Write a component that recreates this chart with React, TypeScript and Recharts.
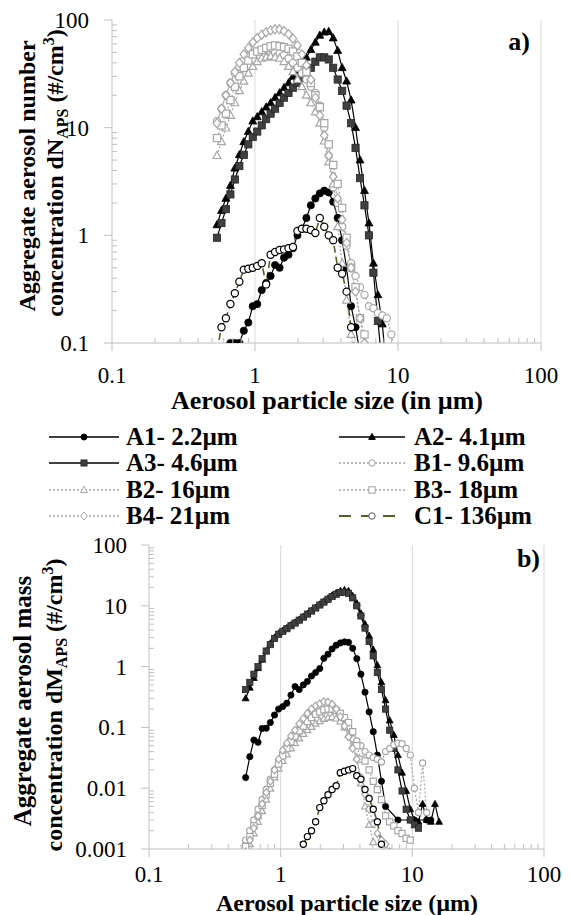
import React from 'react';
import { LineChart, Line, XAxis, YAxis, ReferenceLine } from 'recharts';

// APS channel midpoints (µm)
const SIZES = [
  0.542, 0.583, 0.626, 0.673, 0.723, 0.777, 0.835, 0.898, 0.965, 1.037,
  1.114, 1.197, 1.286, 1.382, 1.486, 1.596, 1.715, 1.843, 1.981, 2.129,
  2.288, 2.458, 2.642, 2.839, 3.051, 3.278, 3.523, 3.786, 4.068, 4.371,
  4.698, 5.048, 5.425, 5.829, 6.264, 6.732, 7.234, 7.774, 8.354, 8.977,
  9.647, 10.37, 11.14, 11.97, 12.86, 13.82, 14.86, 15.96,
];

const _ = null;

// a) number concentration dN_APS
const A1_N = [_, _, _, 0.1, 0.1, 0.1, 0.13, 0.155, 0.22, 0.23, 0.31, 0.36, 0.42, 0.53, 0.5, 0.62, 0.66, 0.76, 1.0, 1.15, 1.45, 1.9, 2.2, 2.45, 2.6, 2.5, 2.05, 1.45, 0.9, 0.5, 0.22, 0.14, 0.08];
const A2_N = [1.25, 1.7, 2.2, 2.9, 4.2, 5.6, 7.4, 9.2, 11.5, 12.6, 14, 15.5, 17, 19, 21, 23.5, 26, 30, 34, 39, 45, 53, 62, 72, 77, 78, 68, 52, 36, 27, 18, 10, 5.0, 2.6, 1.3, 0.55, 0.28, 0.15, 0.05];
const A3_N = [0.95, 1.3, 1.75, 2.4, 3.3, 4.4, 5.6, 7.0, 8.2, 9.2, 10.5, 12, 13.5, 15, 17, 19, 21, 23.5, 26, 29, 32, 36, 41, 45, 45, 43, 36, 28, 22, 16, 11, 6.5, 3.4, 1.9, 1.0, 0.45, 0.16, 0.06];
const B1_N = [11.5, 15, 20, 26, 32, 37, 42, 46, 49, 51, 52, 52, 51, 50, 49, 47, 44, 40, 36, 32, 28, 24, 21, 16, 10, 5.5, 2.8, 2.0, 1.2, 0.8, 0.55, 0.42, 0.33, 0.28, 0.22, 0.21, 0.19, 0.18, 0.17, 0.12, 0.07];
const B2_N = [5.5, 7.4, 9.9, 13, 17, 22, 27, 32, 37, 41, 44, 45, 46, 45, 44, 41, 37, 33, 28, 24, 20, 17, 14, 11, 7.5, 4.8, 3.0, 1.2, 0.55, 0.25, 0.12, 0.06];
const B3_N = [8, 10.5, 13.5, 18, 24, 30, 36, 42, 48, 51, 53, 55, 57, 58, 57, 56, 54, 51, 46, 40, 33, 26, 20, 15.5, 11, 7, 4.5, 3.0, 1.8, 0.95, 0.5, 0.33, 0.17, 0.12, 0.08];
const B4_N = [11, 15, 20, 26, 33, 40, 48, 55, 62, 68, 73, 77, 80, 82, 82, 79, 74, 67, 58, 48, 38, 28, 19, 13, 8.5, 5.5, 3.5, 2.2, 1.4, 0.85, 0.5, 0.3, 0.17, 0.1];
const C1_N = [0.085, 0.14, 0.17, 0.23, 0.29, 0.37, 0.48, 0.49, 0.5, 0.52, 0.55, 0.35, 0.66, 0.7, 0.73, 0.74, 0.76, 0.78, 1.1, 1.15, 1.15, 1.12, 1.05, 1.45, 1.2, 1.0, 0.9, 0.5, 0.44, 0.3, 0.14, 0.08];

// b) mass concentration dM_APS
const A1_M = [0.015, 0.033, 0.062, 0.057, 0.096, 0.097, 0.12, 0.16, 0.2, 0.22, 0.25, 0.34, 0.47, 0.42, 0.5, 0.57, 0.7, 0.8, 0.93, 1.37, 1.6, 1.95, 2.25, 2.45, 2.55, 2.5, 2.0, 1.35, 0.75, 0.38, 0.18, 0.085, 0.035, 0.013, 0.005, _, _, 0.003, _, _, 0.003, 0.003, _, _, 0.003, 0.003];
const A2_M = [0.3, 0.45, 0.65, 0.95, 1.3, 1.8, 2.4, 3.0, 3.5, 3.9, 4.3, 4.8, 5.3, 5.9, 6.6, 7.4, 8.3, 9.3, 10.5, 11.8, 13.2, 14.8, 16.2, 17.5, 18.2, 17.5, 14.5, 11, 7.5, 5.0, 3.2, 1.9, 1.05, 0.55, 0.28, 0.13, 0.075, 0.035, 0.018, 0.009, 0.0045, 0.003, 0.0028, 0.0055, 0.003, 0.0028, 0.0055, 0.0028];
const A3_M = [0.42, 0.55, 0.75, 1.0, 1.35, 1.8, 2.3, 2.9, 3.4, 3.8, 4.2, 4.7, 5.2, 5.8, 6.5, 7.3, 8.2, 9.2, 10.3, 11.5, 12.8, 14.2, 15.5, 16.5, 16.8, 16, 13.5, 10, 6.8, 4.3, 2.6, 1.5, 0.8, 0.42, 0.2, 0.09, 0.045, 0.02, 0.009, 0.0045, 0.003, 0.0025, 0.0022];
const B1_M = [0.0014, 0.002, 0.003, 0.0045, 0.0065, 0.0095, 0.014, 0.02, 0.028, 0.038, 0.05, 0.063, 0.078, 0.095, 0.11, 0.13, 0.15, 0.165, 0.18, 0.19, 0.2, 0.2, 0.19, 0.17, 0.14, 0.1, 0.065, 0.06, 0.05, 0.04, 0.035, 0.032, 0.03, 0.027, 0.04, 0.045, 0.052, 0.055, 0.054, 0.045, 0.035, 0.01, 0.004, 0.026, 0.004];
const B2_M = [0.0008, 0.0012, 0.0018, 0.0028, 0.0042, 0.0065, 0.0098, 0.015, 0.021, 0.028, 0.036, 0.045, 0.055, 0.066, 0.078, 0.09, 0.102, 0.115, 0.127, 0.138, 0.145, 0.148, 0.14, 0.125, 0.1, 0.075, 0.05, 0.032, 0.012, 0.005, 0.0025, 0.0013];
const B3_M = [0.0011, 0.0016, 0.0024, 0.0035, 0.0052, 0.0078, 0.012, 0.017, 0.025, 0.034, 0.045, 0.058, 0.072, 0.088, 0.105, 0.125, 0.145, 0.165, 0.18, 0.195, 0.2, 0.2, 0.19, 0.17, 0.145, 0.12, 0.085, 0.05, 0.03, 0.028, 0.02, 0.013, 0.0095, 0.0065, 0.0035, 0.0028, 0.0024, 0.002, 0.0018, 0.0015, 0.0014];
const B4_M = [0.0009, 0.0014, 0.0022, 0.0035, 0.0055, 0.0085, 0.013, 0.02, 0.03, 0.042, 0.055, 0.072, 0.09, 0.115, 0.14, 0.17, 0.2, 0.225, 0.245, 0.265, 0.26, 0.24, 0.2, 0.15, 0.105, 0.07, 0.045, 0.03, 0.015, 0.008, 0.0045, 0.0026, 0.0018, 0.0014, 0.0012, 0.0009];
const C1_M = [_, _, _, _, _, _, _, _, _, _, _, _, _, _, 0.0012, 0.0016, 0.002, 0.0028, 0.0048, 0.0062, 0.0078, 0.0095, 0.011, 0.018, 0.019, 0.02, 0.021, 0.016, 0.014, 0.0095, 0.0068, 0.0045, 0.0028, 0.0012];

const X_MAJOR = [0.1, 1, 10, 100];
const Y_MAJOR_A = [0.1, 1, 10, 100];
const Y_MAJOR_B = [0.001, 0.01, 0.1, 1, 10, 100];
const MINOR_STEPS = [2, 3, 4, 5, 6, 7, 8, 9];

const withMinor = (majors: number[]) => {
  const out: number[] = [];
  majors.forEach((m, i) => {
    out.push(m);
    if (i < majors.length - 1) MINOR_STEPS.forEach((k) => out.push(m * k));
  });
  return out;
};

const FONT = '"Liberation Serif", "Times New Roman", "DejaVu Serif", serif';
const AXIS = '#bfbfbf';
const GRID = '#d9d9d9';
const GRAY = '#a6a6a6';

const SERIES = [
  { key: 'A1', label: 'A1- 2.2µm', shape: 'circle', fill: '#000', stroke: '#000', line: '#000', dash: undefined },
  { key: 'A2', label: 'A2- 4.1µm', shape: 'triangle', fill: '#000', stroke: '#000', line: '#000', dash: undefined },
  { key: 'A3', label: 'A3- 4.6µm', shape: 'square', fill: '#404040', stroke: '#262626', line: '#000', dash: undefined },
  { key: 'B1', label: 'B1- 9.6µm', shape: 'circle', fill: '#fff', stroke: GRAY, line: GRAY, dash: '2 2' },
  { key: 'B2', label: 'B2- 16µm', shape: 'triangle', fill: '#fff', stroke: GRAY, line: GRAY, dash: '2 2' },
  { key: 'B3', label: 'B3- 18µm', shape: 'square', fill: '#fff', stroke: GRAY, line: GRAY, dash: '2 2' },
  { key: 'B4', label: 'B4- 21µm', shape: 'diamond', fill: '#fff', stroke: GRAY, line: GRAY, dash: '2 2' },
  { key: 'C1', label: 'C1- 136µm', shape: 'circle', fill: '#fff', stroke: '#000', line: '#4f6228', dash: '7 4' },
];

const LEGEND_ROWS = [['A1', 'A2'], ['A3', 'B1'], ['B2', 'B3'], ['B4', 'C1']];

const NUMBER_DATA: any = { A1: A1_N, A2: A2_N, A3: A3_N, B1: B1_N, B2: B2_N, B3: B3_N, B4: B4_N, C1: C1_N };
const MASS_DATA: any = { A1: A1_M, A2: A2_M, A3: A3_M, B1: B1_M, B2: B2_M, B3: B3_M, B4: B4_M, C1: C1_M };

const buildRows = (src: any) =>
  SIZES.map((size, i) => {
    const row: any = { size };
    SERIES.forEach((s) => {
      const v = src[s.key][i];
      row[s.key] = v == null ? null : v;
    });
    return row;
  });

const txt = (size: number, weight = 400) => ({ fontFamily: FONT, fontSize: size, fontWeight: weight, fill: '#000' });

function Marker({ shape, cx, cy, r, fill, stroke, sw }: any) {
  if (shape === 'square')
    return <rect x={cx - r} y={cy - r} width={2 * r} height={2 * r} fill={fill} stroke={stroke} strokeWidth={sw} />;
  if (shape === 'triangle')
    return (
      <polygon
        points={`${cx},${cy - r * 1.2} ${cx + r * 1.1},${cy + r * 0.8} ${cx - r * 1.1},${cy + r * 0.8}`}
        fill={fill} stroke={stroke} strokeWidth={sw}
      />
    );
  if (shape === 'diamond')
    return (
      <polygon
        points={`${cx},${cy - r * 1.25} ${cx + r * 1.05},${cy} ${cx},${cy + r * 1.25} ${cx - r * 1.05},${cy}`}
        fill={fill} stroke={stroke} strokeWidth={sw}
      />
    );
  return <circle cx={cx} cy={cy} r={r} fill={fill} stroke={stroke} strokeWidth={sw} />;
}

function Panel({ data, yMajor, width, height, margin, yAxisWidth, labelGap, r }: any) {
  const rows = buildRows(data);
  const yTicks = withMinor(yMajor);
  const xTicks = withMinor(X_MAJOR);

  const xTick = (p: any) => {
    const { x, y, payload } = p;
    const major = X_MAJOR.includes(payload.value);
    return (
      <g key={`xt-${payload.value}`}>
        {major ? (
          <line x1={x} x2={x} y1={y} y2={y + 8} stroke={AXIS} />
        ) : (
          <line x1={x} x2={x} y1={y} y2={y - 5} stroke={AXIS} />
        )}
        {major && (
          <text x={x} y={y + labelGap.x} textAnchor="middle" style={txt(23)}>
            {String(payload.value)}
          </text>
        )}
      </g>
    );
  };

  const yTick = (p: any) => {
    const { x, y, payload } = p;
    const major = yMajor.includes(payload.value);
    return (
      <g key={`yt-${payload.value}`}>
        {major ? (
          <line x1={x - 8} x2={x} y1={y} y2={y} stroke={AXIS} />
        ) : (
          <line x1={x} x2={x + 5} y1={y} y2={y} stroke={AXIS} />
        )}
        {major && (
          <text x={x - labelGap.y} y={y + 8} textAnchor="end" style={txt(23)}>
            {String(payload.value)}
          </text>
        )}
      </g>
    );
  };

  return (
    <LineChart width={width} height={height} data={rows} margin={margin}>
      <XAxis
        dataKey="size"
        type="number"
        scale="log"
        domain={[0.1, 100]}
        ticks={xTicks}
        interval={0}
        tickSize={0}
        tickMargin={0}
        height={40}
        axisLine={{ stroke: AXIS }}
        tick={xTick}
      />
      <YAxis
        type="number"
        scale="log"
        domain={[yMajor[0], yMajor[yMajor.length - 1]]}
        allowDataOverflow
        ticks={yTicks}
        interval={0}
        tickSize={0}
        tickMargin={0}
        width={yAxisWidth}
        axisLine={{ stroke: AXIS }}
        tick={yTick}
      />
      <ReferenceLine x={1} stroke={GRID} />
      <ReferenceLine x={10} stroke={GRID} />
      <ReferenceLine x={100} stroke={GRID} />
      {SERIES.map((s) => (
        <Line
          key={s.key}
          dataKey={s.key}
          type="linear"
          stroke={s.line}
          strokeWidth={s.key === 'C1' ? 1.6 : 1.2}
          strokeDasharray={s.dash}
          connectNulls
          isAnimationActive={false}
          activeDot={false}
          dot={(p: any) => {
            if (p.cx == null || p.cy == null || p.value == null || Number.isNaN(p.cy))
              return <g key={`${s.key}-d-${p.index}`} />;
            return (
              <g key={`${s.key}-d-${p.index}`}>
                <Marker shape={s.shape} cx={p.cx} cy={p.cy} r={r} fill={s.fill} stroke={s.stroke} sw={s.fill === '#fff' ? 1.2 : 0.8} />
              </g>
            );
          }}
        />
      ))}
    </LineChart>
  );
}

function Legend() {
  const cols = [
    { x1: 49, x2: 119, mx: 84, tx: 126 },
    { x1: 339, x2: 405, mx: 372, tx: 414 },
  ];
  const ys = [437, 463, 490, 516];
  return (
    <g>
      {LEGEND_ROWS.map((row, ri) =>
        row.map((k, ci) => {
          const s: any = SERIES.find((q) => q.key === k);
          const c = cols[ci];
          const y = ys[ri];
          return (
            <g key={k}>
              <line x1={c.x1} x2={c.x2} y1={y} y2={y} stroke={s.line} strokeWidth={s.key === 'C1' ? 2 : 1.3} strokeDasharray={s.key === 'C1' ? '12 10' : s.dash} />
              <Marker shape={s.shape} cx={c.mx} cy={y} r={s.key.startsWith('A') ? 3 : 3.2} fill={s.fill} stroke={s.key === 'C1' ? '#555' : s.stroke} sw={1} />
              <text x={c.tx} y={y + 8} style={txt(25, 700)}>{s.label}</text>
            </g>
          );
        })
      )}
    </g>
  );
}

export default function App() {
  return (
    <div style={{ position: 'absolute', left: 0, top: 0, width: 570, height: 915, background: '#fff', overflow: 'hidden', fontFamily: FONT }}>
      <div style={{ position: 'absolute', left: 0, top: 0 }}>
        <Panel
          data={NUMBER_DATA}
          yMajor={Y_MAJOR_A}
          width={570}
          height={400}
          margin={{ top: 20, right: 29, bottom: 17, left: 0 }}
          yAxisWidth={112}
          labelGap={{ x: 40, y: 23 }}
          r={3.6}
        />
      </div>
      <div style={{ position: 'absolute', left: 0, top: 525 }}>
        <Panel
          data={MASS_DATA}
          yMajor={Y_MAJOR_B}
          width={570}
          height={390}
          margin={{ top: 20, right: 26, bottom: 26, left: 0 }}
          yAxisWidth={149}
          labelGap={{ x: 33, y: 22 }}
          r={3.1}
        />
      </div>
      <svg width={570} height={915} style={{ position: 'absolute', left: 0, top: 0, pointerEvents: 'none' }}>
        {/* panel a titles */}
        <text transform="translate(35,176) rotate(-90)" textAnchor="middle" style={txt(24, 700)}>Aggregate aerosol number</text>
        <text transform="translate(63,173) rotate(-90)" textAnchor="middle" style={txt(24, 700)}>
          concentration dN<tspan style={{ fontSize: 16 }} dy={5}>APS</tspan>
          <tspan dy={-5}> (#/cm</tspan>
          <tspan style={{ fontSize: 16 }} dy={-9}>3</tspan>
          <tspan dy={9}>)</tspan>
        </text>
        <text x={327} y={409} textAnchor="middle" style={txt(26, 700)}>Aerosol particle size (in µm)</text>
        <text x={530} y={50} textAnchor="end" style={txt(26, 700)}>a)</text>

        <Legend />

        {/* panel b titles */}
        <text transform="translate(31,701) rotate(-90)" textAnchor="middle" style={txt(25, 700)}>Aggregate aerosol mass</text>
        <text transform="translate(62,705) rotate(-90)" textAnchor="middle" style={txt(24, 700)}>
          concentration  dM<tspan style={{ fontSize: 16 }} dy={5}>APS</tspan>
          <tspan dy={-5}> (#/cm</tspan>
          <tspan style={{ fontSize: 16 }} dy={-9}>3</tspan>
          <tspan dy={9}>)</tspan>
        </text>
        <text x={347} y={911} textAnchor="middle" style={txt(24, 700)}>Aerosol particle size (µm)</text>
        <text x={540} y={567} textAnchor="end" style={txt(26, 700)}>b)</text>
      </svg>
    </div>
  );
}
